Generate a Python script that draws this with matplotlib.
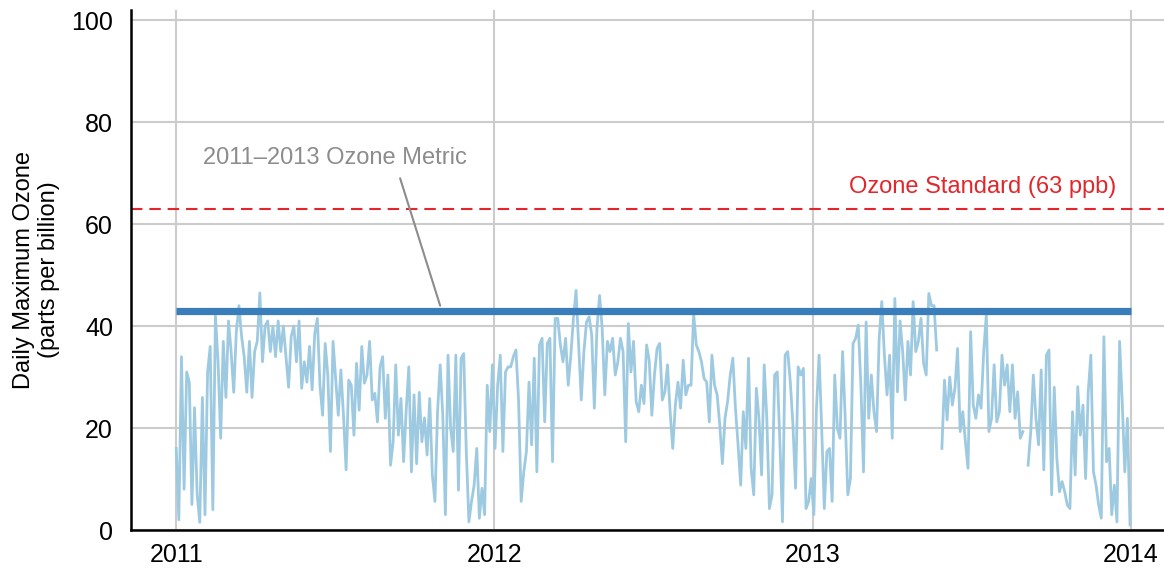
import numpy as np
import pandas as pd
import matplotlib
matplotlib.use("Agg")
import matplotlib.pyplot as plt

plt.rcParams['font.family'] = ['Liberation Sans', 'DejaVu Sans']

# daily max ozone, read every 3 days from 2011-01-01
ozone = [
    16, 2, 34, 8, 31, 29, 5, 24, 7, 1.5,
    26, 3, 31, 36, 4, 42, 33, 18, 37, 26,
    41, 35, 27, 39, 44, 38, 34, 27, 37, 26,
    35, 37, 46.5, 33, 40, 41, 35, 40, 34, 41,
    35, 40, 34, 28, 38, 40,
    33, 41, 27.8, 33, 29, 36, 27.5, 38.5, 41.5, 28.4,
    22.5, 36.6, 30.4, 15.4, 37, 29.7, 22.5, 31.4, 22.5, 11.8,
    29.4, 28.4, 18.6, 32.7, 23.5, 36, 28.8, 30.4, 37, 25.5,
    26.8, 21.2, 32, 34, 21.9, 30.4, 12.7, 17.3, 32.4, 18.6,
    25.8, 13.4, 23.5, 32, 11.4, 26.5,
    13, 27, 17.3, 22, 14.7, 25.8, 10.8, 5.6, 23.2, 32.4,
    22.5, 3, 34.3, 20, 15.4, 34.3, 7.8, 33.7, 34.6, 15.4,
    1.6, 5.6, 8.8, 16, 2.3, 8.2, 3, 28.4, 19.3, 32.4,
    16, 28.4, 34.3, 15.4, 31, 32, 32, 34, 35.3, 25.5,
    5.6, 11.4, 15.4, 29, 16.7, 33.7,
    11.4, 36.3, 37.6, 21.2, 36.6, 37.6, 13.4, 41.5, 41.5, 36.3,
    33, 37.6, 28.4, 34.3, 41.5, 47, 36.3, 25.5, 35, 40.8,
    41.8, 38.2, 23.9, 39.5, 46, 39.5, 26.5, 37, 35, 37.6,
    30.4, 33, 37.6, 35, 17.3, 40.5, 31, 37, 25.2, 23.2,
    28.4, 24.8, 36.3, 33.3, 22.5, 30.4,
    35.6, 36.6, 25.5, 27.1, 32.4, 23.2, 16, 24.5, 29, 23.9,
    33.3, 26.5, 28.4, 28.4, 42.5, 36.3, 35, 33, 29.7, 29,
    21.2, 34.3, 28.4, 26.5, 20.6, 13, 21.9, 25.2, 30.4, 33.7,
    23.9, 16.7, 8.8, 23.2, 16, 33.7, 12.1, 6.9, 27.8, 21.9,
    10.8, 32.4, 21.9, 4.2, 6.9, 30.4,
    31, 17.3, 1.6, 34.3, 35, 29, 20.6, 8.2, 32, 30.4,
    31.7, 4.2, 5.6, 10.1, 3, 23.9, 34.3, 20, 4.2, 15.4,
    16, 5.6, 30.4, 20, 18, 35, 21.9, 6.9, 10.1, 36.6,
    37.6, 40.2, 28.4, 11.4, 40.8, 21.9, 30.4, 23.2, 19.3, 37.6,
    44.8, 34.3, 26.5, 34.3, 18, 45.4,
    27.1, 41, 35, 25.5, 37, 30.4, 44.8, 35, 37, 41.5,
    32.7, 30.4, 46.4, 44, 44, 35.3, np.nan, 16, 29.4, 21.6,
    30, 24.5, 27.8, 35.6, 19.3, 23.2, 17.3, 12.1, 38.9, 24.5,
    21.9, 26.5, 23.9, 35, 42.2, 19.3, 21.9, 32.4, 21.2, 23.2,
    34.3, 28.4, 32.4, 23.2, 32.4, 21.9,
    27.1, 18, 19.3, np.nan, 12.7, 19.3, 30.4, 21.9, 16.7, 31.4,
    11.8, 34.3, 35.3, 6.9, 28, 14, 7.5, 9.5, 7.5, 4.9,
    4.2, 23.2, 10.8, 28.1, 18.6, 24.5, 10.1, 27.1, 34.3, 11.4,
    8.8, 4.9, 2.3, 37.9, 13.4, 16, 3, 8.8, 1.6, 37,
    25.2, 11.4, 21.9, 1,
]
dates = pd.date_range("2011-01-01", periods=len(ozone), freq="3D")

metric = 43
standard = 63
metric_start, metric_end = "2011-01-01", "2014-01-01"
years = ["2011", "2012", "2013", "2014"]

fig = plt.figure(figsize=(11.64, 5.68), dpi=100)
ax = fig.add_axes([0.1125, 0.0669, 0.8875, 0.9155])

ax.plot(dates, ozone, color="#9ecae1", lw=2.0, zorder=3)
ax.plot(pd.to_datetime([metric_start, metric_end]), [metric, metric],
        color="#3a7dbb", lw=5.2, solid_capstyle="butt", zorder=4)
ax.axhline(standard, color="#e3262b", lw=1.5, dashes=(5.5, 3.3), zorder=2)

ax.text(pd.Timestamp("2013-12-15"), standard + 2.2, "Ozone Standard (63 ppb)",
        color="#e3262b", fontsize=17, ha="right", va="bottom")

# label and its leader line
ax.text(pd.Timestamp("2011-07-02"), 73, "2011\u20132013 Ozone Metric",
        color="#8c8c8c", fontsize=17, ha="center", va="center")
ax.annotate("", xy=(pd.Timestamp("2011-10-31"), metric + 1),
            xytext=(pd.Timestamp("2011-09-15"), 69),
            arrowprops=dict(arrowstyle="-", color="#8c8c8c", lw=1.5,
                            shrinkA=0, shrinkB=0))

ax.set_xlim(pd.Timestamp("2010-11-10"), pd.Timestamp("2014-02-08"))
ax.set_ylim(0, 102)
ax.set_xticks(pd.to_datetime([y + "-01-01" for y in years]))
ax.set_xticklabels(years)
ax.set_yticks([0, 20, 40, 60, 80, 100])
ax.tick_params(axis="both", length=0, labelsize=18)
ax.tick_params(axis="y", pad=13)
ax.tick_params(axis="x", pad=9)
ax.grid(True, color="#cccccc", lw=1.5, zorder=0)
ax.set_axisbelow(True)
for s in ["top", "right"]:
    ax.spines[s].set_visible(False)
ax.spines["left"].set_linewidth(1.8)
ax.spines["bottom"].set_linewidth(1.8)
ax.set_ylabel("Daily Maximum Ozone\n(parts per billion)", fontsize=17,
              linespacing=1.15, labelpad=8)

plt.savefig("out.png", dpi=100)
